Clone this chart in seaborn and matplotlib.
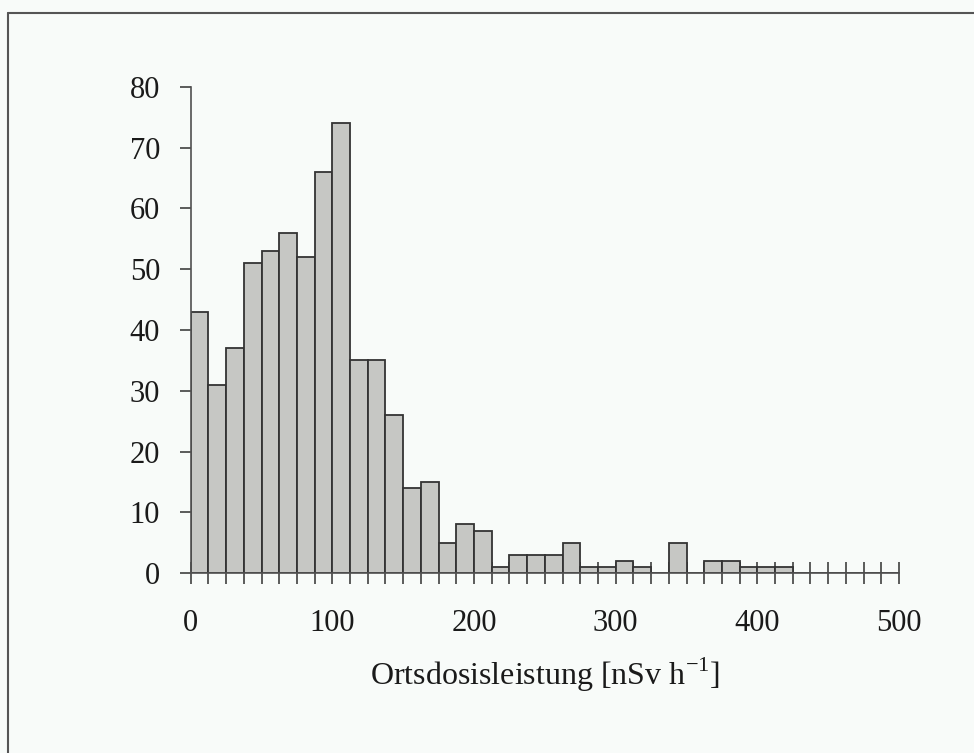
import numpy as np
import pandas as pd
import matplotlib
matplotlib.use("Agg")
import matplotlib.pyplot as plt
from matplotlib.lines import Line2D
import seaborn as sns

# bin edges (12.5 nSv/h wide) and counts per bin
bin_width = 12.5
bin_edges = np.arange(0, 500 + bin_width, bin_width)
counts = [43, 31, 37, 51, 53, 56, 52, 66, 74, 35,
          35, 26, 14, 15, 5, 8, 7, 1, 3, 3,
          3, 5, 1, 1, 2, 1, 0, 5, 0, 2,
          2, 1, 1, 1, 0, 0, 0, 0, 0, 0]
x_labels = [0, 100, 200, 300, 400, 500]
y_ticks = [0, 10, 20, 30, 40, 50, 60, 70, 80]

df = pd.DataFrame({"center": bin_edges[:-1] + bin_width / 2, "count": counts})

sns.set_style("white")
plt.rcParams['font.family'] = ['Liberation Serif', 'DejaVu Serif']
plt.rcParams['mathtext.fontset'] = 'custom'
plt.rcParams['mathtext.rm'] = 'Liberation Serif'

bg = '#f8fbf9'
fig = plt.figure(figsize=(9.74, 7.53), dpi=100, facecolor=bg)
ax = fig.add_axes([0.1958, 0.239, 0.7272, 0.6455])
ax.set_facecolor(bg)

sns.histplot(data=df, x="center", weights="count", binwidth=bin_width, binrange=(0, 500),
             ax=ax, color='#c6c7c4', alpha=1, edgecolor='#333333', linewidth=1.3)

ax.set_xlim(0, 500)
ax.set_ylim(0, 80)
ax.set_yticks(y_ticks)
ax.set_xticks(bin_edges)
ax.set_xticklabels([str(int(e)) if e in x_labels else '' for e in bin_edges])

for s in ['top', 'right']:
    ax.spines[s].set_visible(False)
for s in ['left', 'bottom']:
    ax.spines[s].set_color('#505050')
    ax.spines[s].set_linewidth(1.2)

ax.tick_params(axis='x', direction='inout', length=16, width=1.2, color='#404040',
               labelsize=22, pad=18, bottom=True, labelcolor='#1a1a1a')
ax.tick_params(axis='y', direction='out', length=8, width=1.2, color='#404040',
               labelsize=22, pad=14, left=True, labelcolor='#1a1a1a')

ax.set_ylabel('')
ax.set_xlabel(r'Ortsdosisleistung [nSv h$^{\mathregular{-1}}$]', fontsize=23, labelpad=13,
              color='#1a1a1a')

# thin frame line at the top and left of the picture
fig.add_artist(Line2D([8 / 974, 1], [1 - 13 / 753, 1 - 13 / 753], color='#555555', lw=1.5,
                      transform=fig.transFigure))
fig.add_artist(Line2D([8 / 974, 8 / 974], [0, 1 - 13 / 753], color='#555555', lw=1.5,
                      transform=fig.transFigure))

fig.savefig("out.png", dpi=100, facecolor=bg)
